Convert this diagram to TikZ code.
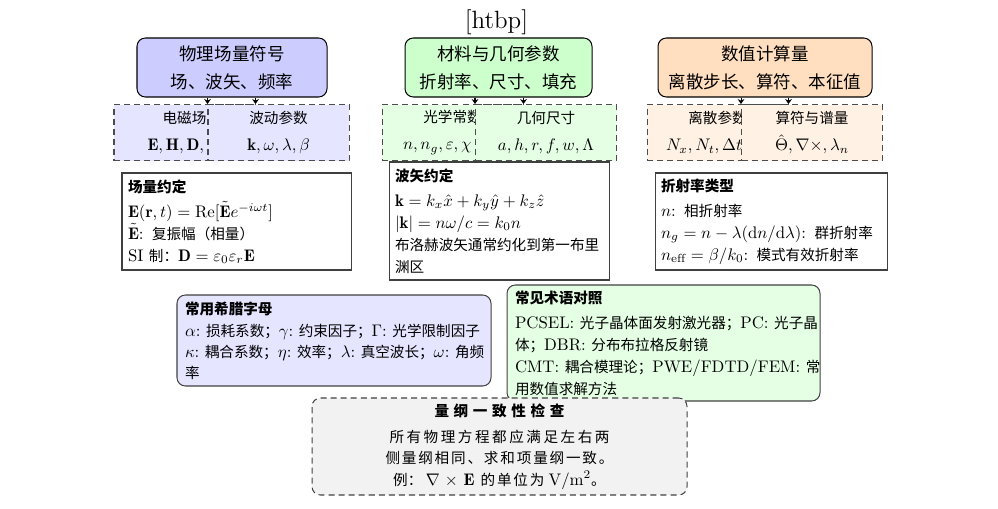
\documentclass[tikz,border=0pt]{standalone}
\usepackage{fontspec}
\usetikzlibrary{arrows.meta}
\newfontfamily\cjk[Scale=0.87]{Noto Sans CJK SC}
\newcommand\zh[1]{{\cjk #1}}
\newcommand\zhb[1]{{\cjk\bfseries #1}}
\newcommand\cgap{\hspace{0pt plus 1fil}}
\newdimen\px \px=0.5965pt
\tikzset{
  mainbox/.style={draw=black, line width=0.6pt, rounded corners=5pt, align=center,
    font=\fontsize{12}{16.6}\selectfont, inner sep=3pt, minimum height=59\px},
  subbox/.style={draw=black!70, line width=0.6pt, dash pattern=on 3.6pt off 2.4pt,
    align=center, font=\fontsize{10}{16.1}\selectfont, inner sep=2pt,
    minimum width=141\px, minimum height=56\px},
  notebox/.style={draw=black!75, line width=0.6pt, fill=white, align=left,
    font=\fontsize{10}{13.1}\selectfont, inner xsep=6\px, inner ysep=2pt},
  roundnote/.style={notebox, rounded corners=5pt, inner xsep=8\px},
  arr/.style={-{Stealth[length=3pt,width=4pt]}, line width=0.6pt},
}
\begin{document}
\begin{tikzpicture}[x=0.5965pt,y=-0.5965pt]
\useasboundingbox (0,0) rectangle (998,509);
\node[font=\fontsize{14.9}{18}\selectfont, inner sep=0pt] (tag) at (496.5,22.5) {[htbp]};

% ---- group 1
\node[mainbox, fill=blue!20, minimum width=190\px] (m1) at (232,67.5)
  {\zh{物理场量符号}\\\zh{场、波矢、频率}};
\node[subbox, fill=blue!10] (l1) at (184.5,132.6)
  {\zh{电磁场}\\\makebox[74\px][l]{$\mathbf{E},\mathbf{H},\mathbf{D},$}};
\node[subbox, fill=blue!10] (r1) at (278.5,132.6)
  {\zh{波动参数}\\$\mathbf{k},\omega,\lambda,\beta$};
\draw[arr] (m1.south -| r1.west) -- (r1.north west);
\draw[arr] (m1.south -| l1.east) -- (l1.north east);

% ---- group 2
\node[mainbox, fill=green!20, minimum width=187\px] (m2) at (498.5,67.5)
  {\zh{材料与几何参数}\\\zh{折射率、尺寸、填充}};
\node[subbox, fill=green!10] (l2) at (452.5,132.6)
  {\zh{光学常数}\\\makebox[99\px][l]{$n,n_g,\varepsilon,\chi$}};
\node[subbox, fill=green!10] (r2) at (546,132.6)
  {\zh{几何尺寸}\\$a,h,r,f,w,\Lambda$};
\draw[arr] (m2.south -| r2.west) -- (r2.north west);
\draw[arr] (m2.south -| l2.east) -- (l2.north east);

% ---- group 3
\node[mainbox, fill=orange!25, minimum width=214\px] (m3) at (765,67.5)
  {\zh{数值计算量}\\\zh{离散步长、算符、本征值}};
\node[subbox, fill=orange!10] (l3) at (717.5,132.6)
  {\zh{离散参数}\\\makebox[103\px][l]{$N_x,N_t,\Delta t$}};
\node[subbox, fill=orange!10] (r3) at (812,132.6)
  {\zh{算符与谱量}\\$\hat{\Theta},\nabla\times,\lambda_n$};
\draw[arr] (m3.south -| r3.west) -- (r3.north west);
\draw[arr] (m3.south -| l3.east) -- (l3.north east);

% ---- notes
\node[notebox, text width=217\px, minimum height=97\px] (na) at (236.5,221.5)
  {\zhb{场量约定}\\[1.8pt]
   $\mathbf{E}(\mathbf{r},t)=\mathrm{Re}[\tilde{\mathbf{E}}e^{-i\omega t}]$\\
   $\tilde{\mathbf{E}}$: \zh{复振幅（相量）}\\
   SI \zh{制：}$\mathbf{D}=\varepsilon_0\varepsilon_r\mathbf{E}$};
\node[notebox, text width=208\px, minimum height=118\px] (nb) at (499,221)
  {\zhb{波矢约定}\\[1.8pt]
   $\mathbf{k}=k_x\hat{x}+k_y\hat{y}+k_z\hat{z}$\\
   $|\mathbf{k}|=n\omega/c=k_0n$\\
   \zh{布洛赫波矢通常约化到第一布里}\\
   \zh{渊区}};
\node[notebox, text width=220\px, minimum height=97\px] (nc) at (771,221.5)
  {\zhb{折射率类型}\\[1.8pt]
   $n$: \zh{相折射率}\\
   $n_g=n-\lambda(\mathrm{d}n/\mathrm{d}\lambda)$: \zh{群折射率}\\
   $n_{\mathrm{eff}}=\beta/k_0$: \zh{模式有效折射率}};

\node[roundnote, fill=blue!10, text width=298\px, minimum height=91\px,
      font=\fontsize{10}{12.6}\selectfont] (nd) at (334,340.5)
  {\zhb{常用希腊字母}\\[0.6pt]
   $\alpha$:~\zh{损耗系数；}$\gamma$:~\zh{约束因子；}$\Gamma$:~\zh{光学限制因子}\\
   $\kappa$:~\zh{耦合系数；}$\eta$:~\zh{效率；}$\lambda$:~\zh{真空波长；}$\omega$:~\zh{角频}\\
   \zh{率}};
\node[roundnote, fill=green!10, text width=297\px, minimum height=116\px] (ne) at (663.5,343)
  {\zhb{常见术语对照}\\[1.8pt]
   PCSEL:~\zh{光子晶体面发射激光器；}PC:~\zh{光子晶}\\
   \zh{体；}DBR:~\zh{分布布拉格反射镜}\\
   CMT:~\zh{耦合模理论；}PWE/FDTD/FEM:~\zh{常}\\
   \zh{用数值求解方法}};

\node[draw=black!75, line width=0.6pt, dash pattern=on 3.6pt off 2.4pt, rounded corners=5pt,
      fill=black!5, minimum width=375\px, minimum height=97\px, align=center,
      font=\fontsize{10}{12.8}\selectfont] (nf) at (499.5,446.5)
  {\makebox[130\px][s]{\cjk\bfseries 量\cgap 纲\cgap 一\cgap 致\cgap 性\cgap 检\cgap 查}\\[2.5pt]
   \makebox[220\px][s]{\cjk 所\cgap 有\cgap 物\cgap 理\cgap 方\cgap 程\cgap 都\cgap 应\cgap 满\cgap 足\cgap 左\cgap 右\cgap 两}\\
   \makebox[228\px][s]{\cjk 侧\cgap 量\cgap 纲\cgap 相\cgap 同\cgap 、\cgap 求\cgap 和\cgap 项\cgap 量\cgap 纲\cgap 一\cgap 致\cgap 。}\\
   \zh{例：}\hspace{2pt}$\nabla$\hspace{3pt}$\times$\hspace{3.5pt}$\mathbf{E}$\hspace{3.5pt}\makebox[64\px][s]{\cjk 的\cgap 单\cgap 位\cgap 为}\hspace{2.5pt}V/m$^2$\zh{。}};
\end{tikzpicture}
\end{document}
